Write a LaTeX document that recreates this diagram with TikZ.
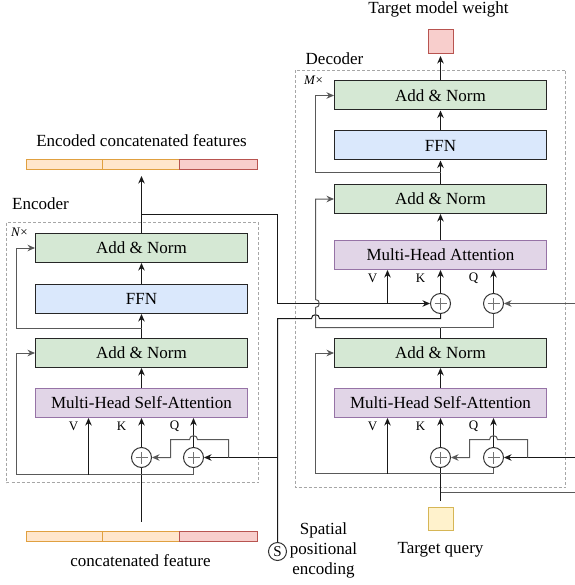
\documentclass[tikz,border=0pt]{standalone}
\usepackage{fontspec}
\setmainfont{Liberation Serif}
\usetikzlibrary{arrows.meta}

\definecolor{normgreen}{HTML}{D5E8D4}
\definecolor{ffnblue}{HTML}{DAE8FC}
\definecolor{attnpurple}{HTML}{E1D5E7}
\definecolor{attnedge}{HTML}{9673A6}
\definecolor{featorange}{HTML}{FFE6CC}
\definecolor{featorangeedge}{HTML}{E0A040}
\definecolor{featred}{HTML}{F8CECC}
\definecolor{featrededge}{HTML}{B85450}
\definecolor{queryyellow}{HTML}{FFF2CC}
\definecolor{queryedge}{HTML}{D6B656}

\begin{document}
\begin{tikzpicture}[x=1pt,y=-1pt] % y grows downwards
    \tikzset{%
        >={Stealth[length=7.5pt,width=6.5pt]},
        every node/.style={font=\fontsize{17}{20}\selectfont},
        every path/.style={line width=1pt},
        layer/.style={draw=black!85,minimum width=212pt,minimum height=29pt,
                inner sep=0pt},
        addnorm/.style={layer,fill=normgreen},
        ffn/.style={layer,fill=ffnblue},
        attention/.style={layer,fill=attnpurple,draw=attnedge},
        adder/.style={circle,draw=black!80,fill=white,minimum size=20pt,
                inner sep=0pt,
                path picture={
                    \draw[black!55,line width=0.7pt]
                        ([xshift=-6pt]path picture bounding box.center) --
                        ([xshift=6pt]path picture bounding box.center)
                        ([yshift=-6pt]path picture bounding box.center) --
                        ([yshift=6pt]path picture bounding box.center);
                }},
        token/.style={inner sep=0pt,minimum height=10pt},
        frame/.style={draw=black!35,line width=0.7pt,dash pattern=on 3pt off 2pt},
        wire/.style={draw=black!90},
        skip/.style={draw=black!65},
        tag/.style={font=\fontsize{13}{13}\selectfont}%
    }
    %% canvas

    \useasboundingbox (0,0) rectangle (574,585);
    \begin{scope}[shift={(0.5,0.5)}] % keep thin lines on the pixel grid

    %% dashed frames of the stacks

    \draw[frame] (6,222) rectangle (258,482);
    \draw[frame] (295,70) rectangle (565,487);
    \node (enclabel) at (40,203) {Encoder};
    \node (declabel) at (334,58) {Decoder};
    \node[tag] (ntimes) at (19,232) {\textit{N}×};
    \node[tag] (mtimes) at (313,80) {\textit{M}×};

    %% encoder layers

    \node[addnorm] (eAN2) at (141,247.5) {Add \& Norm};
    \node[ffn] (eFFN) at (141,298.5) {FFN};
    \node[addnorm] (eAN1) at (141,352.5) {Add \& Norm};
    \node[attention] (eMHSA) at (141,402.5) {Multi-Head Self-Attention};
    \node[adder] (eplusK) at (141,457) {};
    \node[adder] (eplusQ) at (193,457) {};

    %% decoder layers

    \node[addnorm] (dAN3) at (440,95) {Add \& Norm};
    \node[ffn] (dFFN) at (440,145) {FFN};
    \node[addnorm] (dAN2) at (440,198.5) {Add \& Norm};
    \node[attention] (dMHA) at (440,254.5) {Multi-Head Attention};
    \node[adder] (dplusK) at (440,303) {};
    \node[adder] (dplusQ) at (493,303) {};
    \node[addnorm] (dAN1) at (440,352.5) {Add \& Norm};
    \node[attention] (dMHSA) at (440,402.5) {Multi-Head Self-Attention};
    \node[adder] (dplus1) at (440,457) {};
    \node[adder] (dplus2) at (493,457) {};

    % V, K, Q under every attention block
    \foreach \blk in {eMHSA,dMHA,dMHSA}{
        \node[tag] (\blk-v) at ([xshift=-68pt,yshift=-8.5pt]\blk.south) {V};
        \node[tag] (\blk-k) at ([xshift=-20pt,yshift=-8.5pt]\blk.south) {K};
        \node[tag] (\blk-q) at ([xshift=33pt,yshift=-8.5pt]\blk.south) {Q};
    }

    %% inputs and outputs

    \node[token,fill=featorange,draw=featorangeedge,minimum width=76pt] (enc1) at (64,164) {};
    \node[token,fill=featorange,draw=featorangeedge,minimum width=77pt] (enc2) at (140.5,164) {};
    \node[token,fill=featred,draw=featrededge,minimum width=78pt] (enc3) at (218,164) {};
    \node (enctitle) at (141,140) {Encoded concatenated features};

    \node[token,fill=featorange,draw=featorangeedge,minimum width=76pt] (cat1) at (64,535.5) {};
    \node[token,fill=featorange,draw=featorangeedge,minimum width=77pt] (cat2) at (140.5,535.5) {};
    \node[token,fill=featred,draw=featrededge,minimum width=78pt] (cat3) at (218,535.5) {};
    \node (cattitle) at (140,560) {concatenated feature};

    \node[draw=featrededge,fill=featred,minimum width=25pt,minimum height=24pt,
        inner sep=0pt] (weight) at (440,41) {};
    \node (weighttitle) at (438,9) {Target model weight};
    \node[draw=queryedge,fill=queryyellow,minimum width=25pt,minimum height=23pt,
        inner sep=0pt] (query) at (440,518.5) {};
    \node (querytitle) at (440,549) {Target query};

    \node[circle,draw=black!80,minimum size=18pt,inner sep=0pt,
        font=\fontsize{15}{15}\selectfont] (spe) at (277,551) {S};
    \node[align=center] (spelabel) at (323,550) {Spatial\\positional\\encoding};

    %% turning points

    \coordinate (einput) at (141,521);
    \coordinate (ebus) at (141,474);
    \coordinate (eloop) at (16,474);
    \coordinate (evtap) at (88,474);
    \coordinate (eres) at (141,328);
    \coordinate (eout) at (141,214);
    \coordinate (memturn) at (277,214);
    \coordinate (memdown) at (277,303);
    \coordinate (posturn) at (277,318);
    \coordinate (epos) at (277,457);
    \coordinate (eposbranch) at (228,457);
    \coordinate (eposup) at (228,439);
    \coordinate (eposleft) at (170,439);

    \coordinate (dres) at (440,172);
    \coordinate (dmid) at (440,327);
    \coordinate (dvtapM) at (387,303);
    \coordinate (dbus) at (440,473);
    \coordinate (dloop) at (315,473);
    \coordinate (dvtap) at (387,473);
    \coordinate (dinput) at (440,500);
    \coordinate (dquery) at (440,492);
    \coordinate (edgeq) at (574,492);
    \coordinate (edgeup) at (574,303);
    \coordinate (edgelow) at (574,457);
    \coordinate (dposbranch) at (527,457);
    \coordinate (dposup) at (527,439);
    \coordinate (dposleft) at (469,439);

    %% encoder wiring

    \draw[wire] (einput) -- (eplusK.south);
    \draw[skip,->] (ebus) -- (eloop) |- (eAN1.west);
    \draw[wire,->] (evtap) -- (evtap |- eMHSA.south);
    \draw[skip] (ebus) -| (eplusQ.south);
    \draw[wire,->] (eplusK.north) -- (eMHSA.south);
    \draw[wire,->] (eplusQ.north) -- (eplusQ.north |- eMHSA.south);
    \draw[wire,->] (eMHSA) -- (eAN1);
    \draw[wire,->] (eAN1) -- (eFFN);
    \draw[wire,->] (eFFN) -- (eAN2);
    \draw[skip,->] (eres) -- (eres -| eloop) |- (eAN2.west);
    \draw[wire,->,shorten >=6pt] (eAN2.north) -- (eAN2.north |- enc2.south);

    % positional encoding into the encoder
    \draw[wire,->] (epos) -- (eplusQ.east);
    \draw[skip,->] (eposbranch) -- (eposup) -- (197,439)
        .. controls (197,434) and (189,434) .. (189,439) -- (eposleft) |- (eplusK.east);

    % memory and positional encoding over to the decoder
    \draw[wire,->] (eout) -- (memturn) -- (memdown) -- (dplusK.west);
    \draw[wire,->] (dvtapM) -- (dvtapM |- dMHA.south);
    \draw[wire] (spe.north) -- (posturn) -- (311,318)
        .. controls (311,313) and (319,313) .. (319,318) -| (dplusK.south);

    %% decoder wiring

    \draw[wire,->] (dplusK.north) -- (dMHA.south);
    \draw[wire,->] (dplusQ.north) -- (dplusQ.north |- dMHA.south);
    \draw[wire,->] (dMHA) -- (dAN2);
    \draw[wire,->] (dAN2) -- (dFFN);
    \draw[wire,->] (dFFN) -- (dAN3);
    \draw[wire,->,shorten >=2pt] (dAN3) -- (weight);
    \draw[skip,->] (dres) -- (dres -| dloop) |- (dAN3.west);
    \draw[wire] (dAN1.north) -- (dmid);
    \draw[skip] (dmid) -| (dplusQ.south);
    \draw[skip,->] (dmid) -- (dmid -| dloop) -- (315,307)
        .. controls (320,307) and (320,299) .. (315,299) |- (dAN2.west);
    \draw[skip,->] (edgeup) -- (dplusQ.east);

    \draw[wire] (dinput) -- (dplus1.south);
    \draw[skip] (dquery) -- (edgeq);
    \draw[skip,->] (dbus) -- (dloop) |- (dAN1.west);
    \draw[wire,->] (dvtap) -- (dvtap |- dMHSA.south);
    \draw[skip] (dbus) -| (dplus2.south);
    \draw[wire,->] (dplus1.north) -- (dMHSA.south);
    \draw[wire,->] (dplus2.north) -- (dplus2.north |- dMHSA.south);
    \draw[wire,->] (dMHSA) -- (dAN1);
    \draw[wire,->] (edgelow) -- (dplus2.east);
    \draw[skip,->] (dposbranch) -- (dposup) -- (497,439)
        .. controls (497,434) and (489,434) .. (489,439) -- (dposleft) |- (dplus1.east);
    \end{scope}
\end{tikzpicture}
\end{document}
